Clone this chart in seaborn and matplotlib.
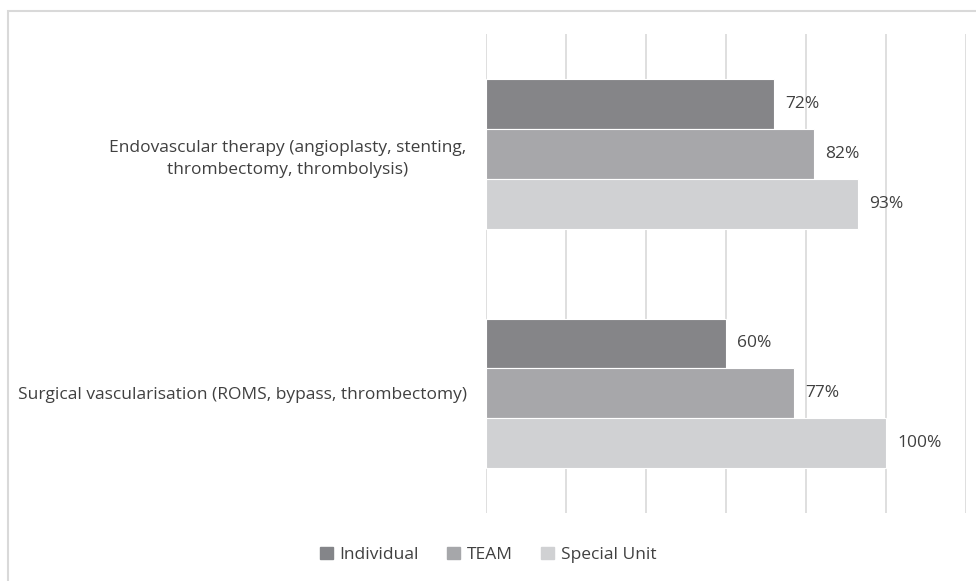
import matplotlib.pyplot as plt
import pandas as pd
import seaborn as sns
from matplotlib.patches import Rectangle

categories = [
    "Endovascular therapy (angioplasty, stenting,\nthrombectomy, thrombolysis)",
    "Surgical vascularisation (ROMS, bypass, thrombectomy)",
]
groups = ["Individual", "TEAM", "Special Unit"]
individual = [72, 60]
team = [82, 77]
special_unit = [93, 100]

colors = ["#848589", "#a6a7aa", "#d0d1d3"]
text_color = "#404040"


def main() -> None:
    df = pd.DataFrame({
        "category": categories * 3,
        "group": [g for g in groups for _ in categories],
        "value": individual + team + special_unit,
    })

    sns.set_theme(style="white")
    plt.rcParams["font.family"] = ["Open Sans", "DejaVu Sans"]

    fig = plt.figure(figsize=(9.76, 5.81), dpi=100)
    ax = fig.add_axes([0.498, 0.117, 0.492, 0.824])

    sns.barplot(
        data=df, y="category", x="value", hue="group",
        hue_order=groups, palette=colors, orient="h",
        width=0.625, gap=0, edgecolor="white", linewidth=0.8,
        errorbar=None, legend=False, ax=ax,
    )

    for container in ax.containers:
        ax.bar_label(container, labels=[f"{v:.0f}%" for v in container.datavalues],
                     padding=8, fontsize=12.5, color=text_color)

    ax.set_xlim(0, 120)
    ax.set_xticks(range(0, 121, 20))
    ax.xaxis.grid(True, color="#d9d9d9", linewidth=1.2)
    ax.set_axisbelow(True)
    ax.tick_params(axis="x", length=0, labelbottom=False)
    ax.tick_params(axis="y", length=0, pad=14, labelsize=12.5, labelcolor=text_color)
    for lab in ax.get_yticklabels():
        lab.set_multialignment("center")
        lab.set_linespacing(1.5)
    for s in ax.spines.values():
        s.set_visible(False)
    ax.set_xlabel("")
    ax.set_ylabel("")

    handles = [plt.Rectangle((0, 0), 1, 1, color=c) for c in colors]
    fig.legend(handles, groups, loc="center", bbox_to_anchor=(0.5, 0.045),
               ncol=3, frameon=False, fontsize=12.5, handlelength=0.75,
               handleheight=0.75, handletextpad=0.4, columnspacing=1.6,
               labelcolor=text_color)

    fig.patches.append(Rectangle((8 / 976, -0.05), 1.0, (581 - 11) / 581 + 0.05,
                                 transform=fig.transFigure, fill=False,
                                 edgecolor="#d9d9d9", linewidth=1.5))

    fig.savefig("out.png", dpi=100)
    plt.close(fig)


if __name__ == "__main__":
    main()
